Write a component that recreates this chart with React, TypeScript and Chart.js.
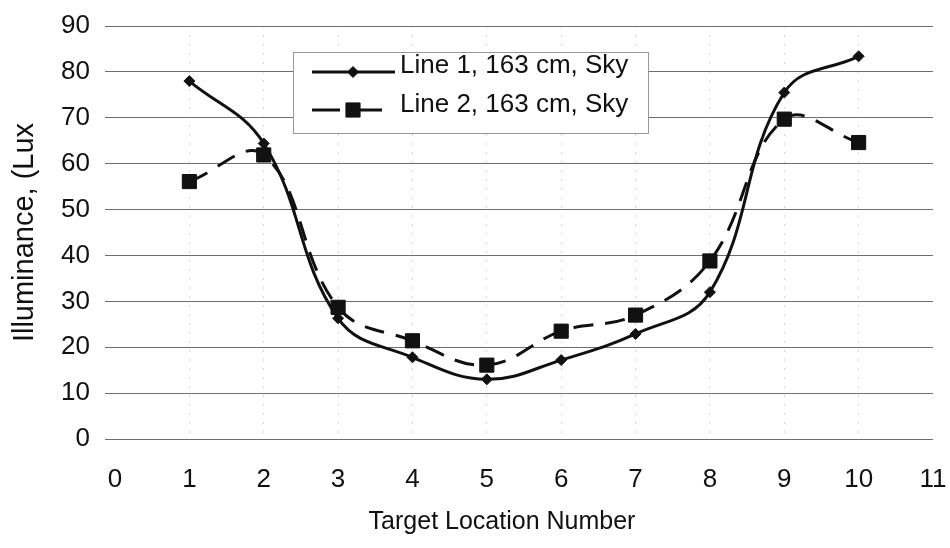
import React, { useEffect, useRef } from "react";
import { Chart, registerables } from "chart.js";

Chart.register(...registerables);

const xValues = [1, 2, 3, 4, 5, 6, 7, 8, 9, 10];
const line1Values = [78, 64.4, 26.3, 17.8, 13.0, 17.2, 22.9, 32, 75.5, 83.4];
const line2Values = [56.1, 61.9, 28.7, 21.4, 16.1, 23.5, 27.0, 38.8, 69.7, 64.6];
const seriesLabels = ["Line 1, 163 cm, Sky", "Line 2, 163 cm, Sky"];
const xTitle = "Target Location Number";
const yTitle = "Illuminance, (Lux";

const FONT = "'Liberation Sans', Arial, sans-serif";

const legendPlugin = {
  id: "boxLegend",
  afterDraw(chart: any) {
    const ctx = chart.ctx;
    ctx.save();
    // x-axis title (offset left of the plot centre, as in the source)
    ctx.fillStyle = "#111";
    ctx.font = `25px ${FONT}`;
    ctx.textAlign = "center";
    ctx.textBaseline = "middle";
    ctx.fillText(xTitle, 502, 522);

    const bx = 293, by = 52, bw = 355, bh = 81;
    ctx.fillStyle = "#fff";
    ctx.fillRect(bx, by, bw, bh);
    ctx.strokeStyle = "#999";
    ctx.lineWidth = 1;
    ctx.strokeRect(bx + 0.5, by + 0.5, bw, bh);
    const rows = [
      { lineY: 72, textY: 73, x1: 312, x2: 395 },
      { lineY: 110, textY: 112, x1: 312, x2: 382 },
    ];
    chart.data.datasets.forEach((ds: any, i: number) => {
      const r = rows[i];
      ctx.strokeStyle = ds.borderColor;
      ctx.lineWidth = ds.borderWidth;
      if (ds.borderDash) {
        ctx.beginPath();
        ctx.moveTo(r.x1, r.lineY);
        ctx.lineTo(r.x1 + 28, r.lineY);
        ctx.moveTo(r.x2 - 22, r.lineY);
        ctx.lineTo(r.x2, r.lineY);
        ctx.stroke();
      } else {
        ctx.beginPath();
        ctx.moveTo(r.x1, r.lineY);
        ctx.lineTo(r.x2, r.lineY);
        ctx.stroke();
      }
      ctx.fillStyle = ds.pointBackgroundColor;
      ctx.strokeStyle = ds.pointBorderColor;
      ctx.lineWidth = 1;
      const cx = 353;
      const rad = ds.pointRadius;
      ctx.beginPath();
      if (ds.pointStyle === "rectRot") {
        ctx.moveTo(cx - rad, r.lineY);
        ctx.lineTo(cx, r.lineY - rad);
        ctx.lineTo(cx + rad, r.lineY);
        ctx.lineTo(cx, r.lineY + rad);
        ctx.closePath();
      } else {
        const s = Math.SQRT1_2 * rad;
        ctx.rect(cx - s, r.lineY - s, 2 * s, 2 * s);
      }
      ctx.fill();
      ctx.stroke();
      ctx.fillStyle = "#111";
      ctx.font = `26px ${FONT}`;
      ctx.textBaseline = "alphabetic";
      ctx.textAlign = "left";
      ctx.fillText(ds.label, 400, r.textY);
    });
    ctx.restore();
  },
};

export default function App() {
  const ref = useRef<HTMLCanvasElement | null>(null);
  useEffect(() => {
    if (!ref.current) return;
    const chart = new Chart(ref.current, {
      type: "line",
      data: {
        datasets: [
          {
            label: seriesLabels[0],
            data: xValues.map((x, i) => ({ x, y: line1Values[i] })),
            borderColor: "#111",
            backgroundColor: "#111",
            borderWidth: 3,
            pointStyle: "rectRot",
            pointRadius: 5.5,
            pointBackgroundColor: "#111",
            pointBorderColor: "#111",
            pointBorderWidth: 1,
            tension: 0.4,
            fill: false,
          },
          {
            label: seriesLabels[1],
            data: xValues.map((x, i) => ({ x, y: line2Values[i] })),
            borderColor: "#111",
            backgroundColor: "#111",
            borderWidth: 3,
            borderDash: [20, 12],
            pointStyle: "rect",
            pointRadius: 10,
            pointBackgroundColor: "#111",
            pointBorderColor: "#111",
            pointBorderWidth: 1,
            tension: 0.4,
            fill: false,
          },
        ],
      },
      options: {
        animation: false,
        responsive: false,
        devicePixelRatio: 1,
        layout: { padding: { top: 26, right: 17, left: 0, bottom: 0 } },
        plugins: { legend: { display: false }, tooltip: { enabled: false } },
        scales: {
          x: {
            type: "linear",
            min: 0,
            max: 11,
            afterFit(scale: any) {
              scale.height = 109;
              scale.paddingLeft = 0;
              scale.paddingRight = 0;
            },
            ticks: {
              stepSize: 1,
              color: "#111",
              font: { family: FONT, size: 26 },
              padding: 25,
            },
            grid: {
              drawTicks: false,
              color: (c: any) =>
                c.tick && (c.tick.value === 0 || c.tick.value === 11)
                  ? "rgba(0,0,0,0)"
                  : "rgba(0,0,0,0.16)",
              lineWidth: 1,
            },
            border: { display: false, dash: [2, 7] },
            title: { display: false },
          },
          y: {
            type: "linear",
            min: 0,
            max: 90,
            afterFit(scale: any) {
              scale.width = 115;
              scale.paddingTop = 0;
              scale.paddingBottom = 0;
            },
            ticks: {
              stepSize: 10,
              color: "#111",
              font: { family: FONT, size: 26 },
              padding: 15,
            },
            grid: {
              color: "#6e6e6e",
              lineWidth: 1,
              drawTicks: true,
              tickLength: 10,
            },
            border: { display: false },
            title: {
              display: true,
              text: yTitle,
              color: "#111",
              font: { family: FONT, size: 29, lineHeight: 1.2 },
              padding: { top: 8, bottom: 0 },
            },
          },
        },
      },
      plugins: [legendPlugin],
    } as any);
    return () => chart.destroy();
  }, []);
  return (
    <div style={{ position: "absolute", left: 0, top: 0, width: 950, height: 548, background: "#fff" }}>
      <canvas ref={ref} width={950} height={548} />
    </div>
  );
}
